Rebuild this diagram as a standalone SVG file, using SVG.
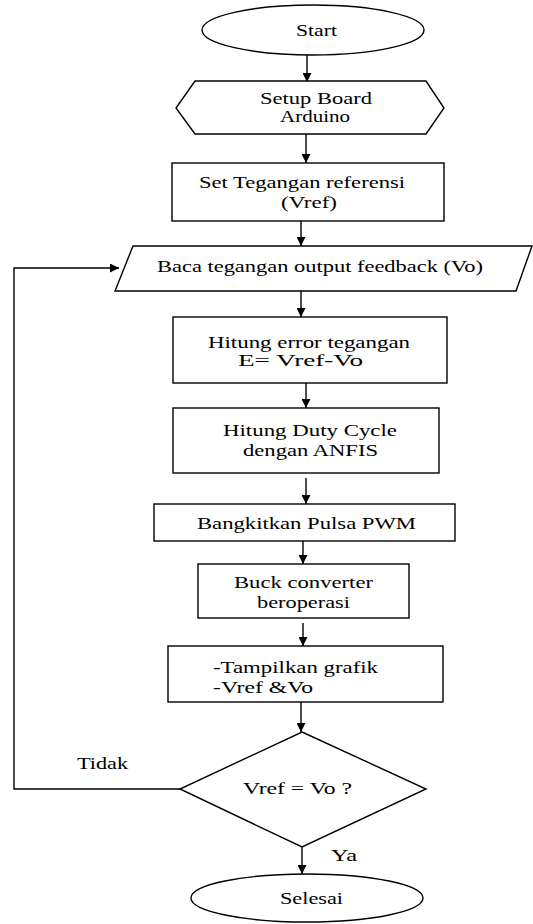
<svg xmlns="http://www.w3.org/2000/svg" width="533" height="924" viewBox="0 0 533 924">
<style>
.s{fill:#fff;stroke:#000;stroke-width:1.4}
.c{fill:none;stroke:#000;stroke-width:1.4}
.t{font-family:'Liberation Serif','Times New Roman','DejaVu Serif',serif;font-size:17px;fill:#000}
</style>
<defs>
<marker id="ah" viewBox="0 0 10 10" refX="10" refY="5" markerWidth="9" markerHeight="9" markerUnits="userSpaceOnUse" orient="auto">
<path d="M0,0 L10,5 L0,10 z" fill="#000"/>
</marker>
</defs>
<rect width="533" height="924" fill="#fff"/>
<g id="connectors">
<path class="c" d="M307,55 V82" marker-end="url(#ah)"/>
<path class="c" d="M306,134 V163" marker-end="url(#ah)"/>
<path class="c" d="M301,221 V246" marker-end="url(#ah)"/>
<path class="c" d="M301,291 V317" marker-end="url(#ah)"/>
<path class="c" d="M306,383 V408" marker-end="url(#ah)"/>
<path class="c" d="M306,478 V504" marker-end="url(#ah)"/>
<path class="c" d="M303,541 V564" marker-end="url(#ah)"/>
<path class="c" d="M303,623 V646" marker-end="url(#ah)"/>
<path class="c" d="M301,702 V732" marker-end="url(#ah)"/>
<path class="c" d="M302,847 V874" marker-end="url(#ah)"/>
<path class="c" d="M180,789 H14 V268 H119" marker-end="url(#ah)"/>
<text class="t" x="77" y="769" textLength="51" lengthAdjust="spacingAndGlyphs">Tidak</text>
<text class="t" x="331" y="861" textLength="26" lengthAdjust="spacingAndGlyphs">Ya</text>
</g>
<g id="start">
<ellipse class="s" cx="313" cy="30" rx="111" ry="25"/>
<text class="t" x="296" y="36" textLength="41" lengthAdjust="spacingAndGlyphs">Start</text>
</g>
<g id="setup">
<polygon class="s" points="195,81 426,81 444,108 426,134 195,134 176,108"/>
<text class="t" x="260" y="104" textLength="112" lengthAdjust="spacingAndGlyphs">Setup Board</text>
<text class="t" x="280" y="122" textLength="70" lengthAdjust="spacingAndGlyphs">Arduino</text>
</g>
<g id="setref">
<rect class="s" x="172" y="163" width="272" height="58"/>
<text class="t" x="199" y="188" textLength="206" lengthAdjust="spacingAndGlyphs">Set Tegangan referensi</text>
<text class="t" x="281" y="208" textLength="56" lengthAdjust="spacingAndGlyphs">(Vref)</text>
</g>
<g id="baca">
<polygon class="s" points="133,246 532,246 516,291 115,291"/>
<text class="t" x="157" y="272" textLength="326" lengthAdjust="spacingAndGlyphs">Baca tegangan output  feedback (Vo)</text>
</g>
<g id="error">
<rect class="s" x="173" y="317" width="274" height="66"/>
<text class="t" x="208" y="348" textLength="202" lengthAdjust="spacingAndGlyphs">Hitung error tegangan</text>
<text class="t" x="238" y="366" textLength="125" lengthAdjust="spacingAndGlyphs">E= Vref-Vo</text>
</g>
<g id="duty">
<rect class="s" x="173" y="408" width="266" height="65"/>
<text class="t" x="223" y="436" textLength="174" lengthAdjust="spacingAndGlyphs">Hitung Duty Cycle</text>
<text class="t" x="243" y="456" textLength="135" lengthAdjust="spacingAndGlyphs">dengan ANFIS</text>
</g>
<g id="pwm">
<rect class="s" x="154" y="504" width="301" height="37"/>
<text class="t" x="197" y="529" textLength="219" lengthAdjust="spacingAndGlyphs">Bangkitkan Pulsa PWM</text>
</g>
<g id="buck">
<rect class="s" x="198" y="564" width="211" height="54"/>
<text class="t" x="234" y="588" textLength="139" lengthAdjust="spacingAndGlyphs">Buck converter</text>
<text class="t" x="257" y="608" textLength="93" lengthAdjust="spacingAndGlyphs">beroperasi</text>
</g>
<g id="tampil">
<rect class="s" x="168" y="646" width="275" height="56"/>
<text class="t" x="213" y="673" textLength="165" lengthAdjust="spacingAndGlyphs">-Tampilkan grafik</text>
<text class="t" x="213" y="693" textLength="100" lengthAdjust="spacingAndGlyphs">-Vref &amp;Vo</text>
</g>
<g id="decision">
<polygon class="s" points="302,732 426,789 302,847 180,789"/>
<text class="t" x="243" y="794" textLength="109" lengthAdjust="spacingAndGlyphs">Vref = Vo ?</text>
</g>
<g id="selesai">
<ellipse class="s" cx="307" cy="898" rx="116" ry="24"/>
<text class="t" x="280" y="904" textLength="63" lengthAdjust="spacingAndGlyphs">Selesai</text>
</g>
</svg>
